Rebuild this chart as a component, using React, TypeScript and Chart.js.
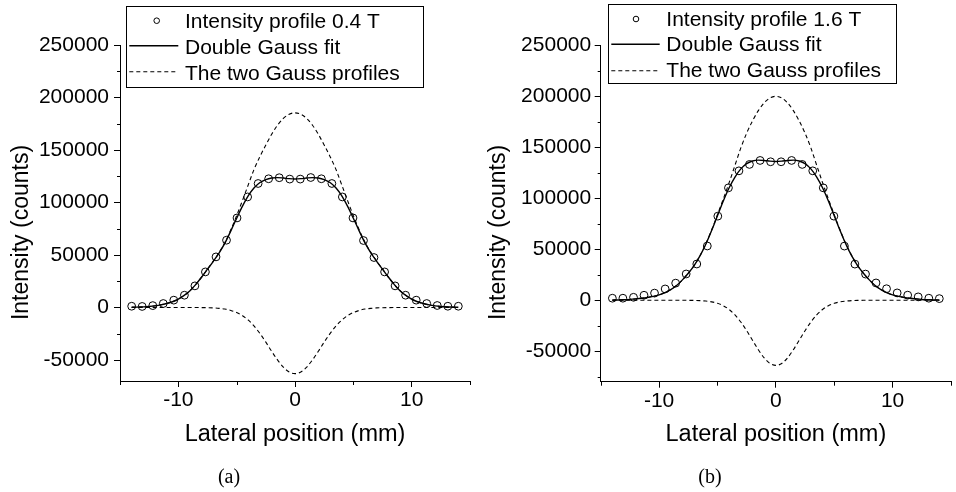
import React, { useEffect, useRef } from "react";
import { Chart, registerables } from "chart.js";

Chart.register(...registerables);

const FONT = "'Liberation Sans', Arial, sans-serif";

// measured lateral positions of the profile points (mm)
const xPoints = [-14, -13.1, -12.19, -11.29, -10.39, -9.48, -8.58, -7.68, -6.77, -5.87, -4.97, -4.06, -3.16, -2.26, -1.35, -0.45,
  0.45, 1.35, 2.26, 3.16, 4.06, 4.97, 5.87, 6.77, 7.68, 8.58, 9.48, 10.39, 11.29, 12.19, 13.1, 14];

// positions where the fitted curves were read (mm)
const xCurve = [-14, -13.5, -13, -12.5, -12, -11.5, -11, -10.5, -10, -9.5, -9, -8.5, -8, -7.5, -7, -6.5, -6, -5.5, -5, -4.5,
  -4, -3.5, -3, -2.5, -2, -1.5, -1, -0.5, 0, 0.5, 1, 1.5, 2, 2.5, 3, 3.5, 4, 4.5, 5, 5.5, 6, 6.5, 7, 7.5, 8, 8.5, 9, 9.5,
  10, 10.5, 11, 11.5, 12, 12.5, 13, 13.5, 14];

// panel (a): 0.4 T
const profileA = [1200, 1000, 1800, 3800, 7000, 11700, 20600, 33900, 48200, 64100, 85300, 105300, 118100, 122600, 123600, 122300,
  122300, 123800, 122600, 118100, 105300, 85300, 63800, 47600, 33900, 20600, 11700, 7000, 3800, 1900, 1200, 1200];
const fitA = [200, 400, 600, 1000, 1600, 2500, 3800, 5500, 8000, 11500, 16000, 22000, 29000, 36500, 44000, 52000, 61500, 73000, 85000, 96500,
  106500, 114000, 119000, 121800, 123300, 123700, 123300, 122700, 122400, 122700, 123300, 123700, 123300, 121800, 119000, 114000,
  106500, 96500, 85000, 73000, 61500, 52000, 44000, 36500, 29000, 22000, 16000, 11500, 8000, 5500, 3800, 2500, 1600, 1000, 600, 400, 200];
const upperA = [200, 400, 600, 1000, 1600, 2500, 3800, 5500, 8000, 11500, 16000, 22000, 29000, 36600, 44200, 52500, 62000, 74000, 87500, 102000,
  117000, 131800, 143900, 154800, 165000, 173600, 180100, 184100, 185400, 184100, 180100, 173600, 165000, 154800, 143900, 131800,
  117000, 102000, 87500, 74000, 62000, 52500, 44200, 36600, 29000, 22000, 16000, 11500, 8000, 5500, 3800, 2500, 1600, 1000, 600, 400, 200];
const lowerA = [0, 0, 0, 0, 0, 0, 0, 0, 0, 0, 0, -50, -100, -200, -400, -800, -1500, -2800, -4800, -7800, -12100, -17800, -24900, -33000,
  -41700, -49900, -56800, -61400, -63000, -61400, -56800, -49900, -41700, -33000, -24900, -17800, -12100, -7800, -4800, -2800, -1500,
  -800, -400, -200, -100, -50, 0, 0, 0, 0, 0, 0, 0, 0, 0, 0, 0];

// panel (b): 1.6 T
const profileB = [2000, 2000, 2900, 4900, 7000, 11100, 16800, 25800, 35600, 53300, 82600, 110400, 127100, 133400, 137300, 136000,
  136000, 137300, 133400, 127100, 110400, 82600, 53200, 35500, 25700, 17000, 11300, 7200, 5000, 3300, 2000, 1600];
const fitB = [150, 300, 500, 800, 1300, 1900, 2700, 3800, 5300, 7500, 10500, 14500, 20000, 26500, 34000, 43500, 55000, 68500, 83000, 97500,
  110500, 121000, 129000, 134200, 136800, 137600, 137300, 136600, 136300, 136600, 137300, 137600, 136800, 134200, 129000, 121000,
  110500, 97500, 83000, 68500, 55000, 43500, 34000, 26500, 20000, 14500, 10500, 7500, 5300, 3800, 2700, 1900, 1300, 800, 500, 300, 150];
const upperB = [150, 300, 500, 800, 1300, 1900, 2700, 3800, 5300, 7500, 10500, 14500, 20000, 26500, 34100, 43700, 55300, 69000, 84000, 99500,
  115500, 132500, 149600, 164100, 176100, 186200, 193900, 198700, 200300, 198700, 193900, 186200, 176100, 164100, 149600, 132500,
  115500, 99500, 84000, 69000, 55300, 43700, 34100, 26500, 20000, 14500, 10500, 7500, 5300, 3800, 2700, 1900, 1300, 800, 500, 300, 150];
const lowerB = [0, 0, 0, 0, 0, 0, 0, 0, 0, 0, 0, 0, -30, -70, -160, -370, -800, -1600, -3000, -5400, -9100, -14400, -21400, -29900,
  -39300, -48600, -56600, -62100, -64000, -62100, -56600, -48600, -39300, -29900, -21400, -14400, -9100, -5400, -3000, -1600, -800,
  -370, -160, -70, -30, 0, 0, 0, 0, 0, 0, 0, 0, 0, 0, 0, 0];

// axes
const xTicks = [-10, 0, 10];
const xMinor = [-15, -5, 5, 15];
const yTicks = [-50000, 0, 50000, 100000, 150000, 200000, 250000];
const yMinorA = [-25000, 25000, 75000, 125000, 175000, 225000];
const yMinorB = [-75000, -25000, 25000, 75000, 125000, 175000, 225000];

const labelsA = ["Intensity profile 0.4 T", "Double Gauss fit", "The two Gauss profiles"];
const labelsB = ["Intensity profile 1.6 T", "Double Gauss fit", "The two Gauss profiles"];
const xTitle = "Lateral position (mm)";
const yTitle = "Intensity (counts)";

type Cfg = {
  profile: number[]; fit: number[]; upper: number[]; lower: number[]; labels: string[];
  yMin: number; yMax: number; yMinor: number[];
  layout: { left: number; top: number; right: number; bottom: number; tickPad: number; yTitleX: number };
  legend: { box: number[]; symY: number[]; textY: number[]; circleX: number; lineX0: number; lineX1: number; textX: number };
};

const cfgA: Cfg = {
  profile: profileA, fit: fitA, upper: upperA, lower: lowerA, labels: labelsA,
  yMin: -70000, yMax: 250000, yMinor: yMinorA,
  layout: { left: 120, top: 45, right: 470, bottom: 381, tickPad: 5, yTitleX: 21.7 },
  legend: { box: [126, 6, 422.7, 87.3], symY: [20.7, 45.7, 71.7], textY: [22.2, 47.8, 73.8], circleX: 156.7, lineX0: 129.3, lineX1: 178.3, textX: 185 },
};
const cfgB: Cfg = {
  profile: profileB, fit: fitB, upper: upperB, lower: lowerB, labels: labelsB,
  yMin: -80000, yMax: 250000, yMinor: yMinorB,
  layout: { left: 122.7, top: 45.7, right: 473.3, bottom: 381.7, tickPad: 3.5, yTitleX: 20.5 },
  legend: { box: [130, 4, 418.3, 83.3], symY: [19, 44.3, 70.7], textY: [20, 45.5, 71.7], circleX: 158, lineX0: 133.3, lineX1: 181.7, textX: 188.3 },
};

const W = 478;
const H = 492;

function makeDecor(cfg: Cfg) {
  return {
    id: "decor",
    afterDraw(chart: any) {
      const { ctx, chartArea: area, scales } = chart;
      const xs = scales.x;
      const ys = scales.y;
      ctx.save();
      ctx.strokeStyle = "#000";
      ctx.lineWidth = 1;
      ctx.setLineDash([]);
      // minor ticks
      ctx.beginPath();
      for (const v of cfg.yMinor) {
        const py = Math.round(ys.getPixelForValue(v)) + 0.5;
        ctx.moveTo(area.left - 3, py);
        ctx.lineTo(area.left, py);
      }
      for (const v of xMinor) {
        const px = Math.round(xs.getPixelForValue(v)) + 0.5;
        ctx.moveTo(px, area.bottom);
        ctx.lineTo(px, area.bottom + 4);
      }
      ctx.stroke();
      // y axis title
      ctx.fillStyle = "#000";
      ctx.font = `23px ${FONT}`;
      ctx.save();
      ctx.translate(cfg.layout.yTitleX, 232.5);
      ctx.rotate(-Math.PI / 2);
      ctx.textAlign = "center";
      ctx.textBaseline = "middle";
      ctx.fillText(yTitle, 0, 0);
      ctx.restore();
      // legend
      const L = cfg.legend;
      const [bx0, by0, bx1, by1] = L.box;
      ctx.fillStyle = "#fff";
      ctx.fillRect(bx0, by0, bx1 - bx0, by1 - by0);
      ctx.strokeStyle = "#000";
      ctx.lineWidth = 1;
      ctx.strokeRect(Math.round(bx0) + 0.5, Math.round(by0) + 0.5, Math.round(bx1 - bx0), Math.round(by1 - by0));
      ctx.beginPath();
      ctx.arc(L.circleX, L.symY[0], 2.8, 0, Math.PI * 2);
      ctx.stroke();
      ctx.lineWidth = 1.4;
      ctx.beginPath();
      ctx.moveTo(L.lineX0, L.symY[1]);
      ctx.lineTo(L.lineX1, L.symY[1]);
      ctx.stroke();
      ctx.lineWidth = 1.1;
      ctx.setLineDash([4, 3]);
      ctx.beginPath();
      ctx.moveTo(L.lineX0, L.symY[2]);
      ctx.lineTo(L.lineX1, L.symY[2]);
      ctx.stroke();
      ctx.setLineDash([]);
      ctx.fillStyle = "#000";
      ctx.font = `21px ${FONT}`;
      ctx.textAlign = "left";
      ctx.textBaseline = "middle";
      const ds = chart.data.datasets;
      for (let i = 0; i < 3; i++) ctx.fillText(ds[i].label, L.textX, L.textY[i]);
      ctx.restore();
    },
  };
}

function Panel({ cfg, left }: { cfg: Cfg; left: number }) {
  const ref = useRef<HTMLCanvasElement>(null);
  useEffect(() => {
    const canvas = ref.current!;
    const lay = cfg.layout;
    const curve = (vals: number[]) => xCurve.map((x, i) => ({ x, y: vals[i] }));
    const chart = new Chart(canvas, {
      type: "line",
      data: {
        datasets: [
          {
            label: cfg.labels[0],
            data: xPoints.map((x, i) => ({ x, y: cfg.profile[i] })),
            showLine: false,
            pointStyle: "circle",
            pointRadius: 3.9,
            pointBorderWidth: 1,
            pointBorderColor: "#000",
            pointBackgroundColor: "rgba(0,0,0,0)",
            borderColor: "#000",
          },
          {
            label: cfg.labels[1],
            data: curve(cfg.fit),
            borderColor: "#000",
            borderWidth: 1.4,
            pointRadius: 0,
            cubicInterpolationMode: "monotone",
            fill: false,
          },
          {
            label: cfg.labels[2],
            data: curve(cfg.upper),
            borderColor: "#000",
            borderWidth: 1.1,
            borderDash: [4, 3],
            pointRadius: 0,
            cubicInterpolationMode: "monotone",
            fill: false,
          },
          {
            label: cfg.labels[2],
            data: curve(cfg.lower),
            borderColor: "#000",
            borderWidth: 1.1,
            borderDash: [4, 3],
            pointRadius: 0,
            cubicInterpolationMode: "monotone",
            fill: false,
          },
        ],
      } as any,
      options: {
        responsive: false,
        animation: false,
        devicePixelRatio: 1,
        layout: { padding: { left: 0, top: lay.top, right: W - lay.right, bottom: 0 } },
        plugins: { legend: { display: false }, tooltip: { enabled: false }, title: { display: false } },
        events: [],
        scales: {
          x: {
            type: "linear",
            min: -15,
            max: 15,
            afterBuildTicks: (s: any) => {
              s.ticks = xTicks.map((v) => ({ value: v }));
            },
            afterFit: (s: any) => {
              s.height = H - lay.bottom;
            },
            ticks: {
              font: { family: FONT, size: 21 },
              color: "#000",
              padding: 1,
              maxRotation: 0,
              autoSkip: false,
              callback: (v: any) => String(v),
            },
            grid: { drawOnChartArea: false, drawTicks: true, tickLength: 6, tickColor: "#000", tickWidth: 1 },
            border: { display: true, color: "#000", width: 1 },
            title: {
              display: true,
              text: xTitle,
              color: "#000",
              font: { family: FONT, size: 23.5 },
              padding: { top: 0, bottom: 43 },
            },
          },
          y: {
            type: "linear",
            min: cfg.yMin,
            max: cfg.yMax,
            afterBuildTicks: (s: any) => {
              s.ticks = yTicks.map((v) => ({ value: v }));
            },
            afterFit: (s: any) => {
              s.width = lay.left;
            },
            ticks: {
              font: { family: FONT, size: 21 },
              color: "#000",
              padding: lay.tickPad,
              autoSkip: false,
              callback: (v: any) => String(v),
            },
            grid: { drawOnChartArea: false, drawTicks: true, tickLength: 6, tickColor: "#000", tickWidth: 1 },
            border: { display: true, color: "#000", width: 1 },
            title: { display: false, text: yTitle },
          },
        },
      } as any,
      plugins: [makeDecor(cfg)],
    });
    return () => chart.destroy();
  }, [cfg]);
  return (
    <canvas
      ref={ref}
      width={W}
      height={H}
      style={{ position: "absolute", left, top: 0, width: W, height: H }}
    />
  );
}

const captionStyle: React.CSSProperties = {
  position: "absolute",
  top: 465,
  width: 100,
  textAlign: "center",
  fontFamily: "'Liberation Serif', 'Times New Roman', serif",
  fontSize: 20,
  lineHeight: "23px",
  color: "#000",
};

export default function App() {
  return (
    <div style={{ position: "fixed", left: 0, top: 0, width: 956, height: 492, background: "#fff", overflow: "hidden" }}>
      <Panel cfg={cfgA} left={0} />
      <Panel cfg={cfgB} left={478} />
      <div style={{ ...captionStyle, left: 179 }}>(a)</div>
      <div style={{ ...captionStyle, left: 660 }}>(b)</div>
    </div>
  );
}
